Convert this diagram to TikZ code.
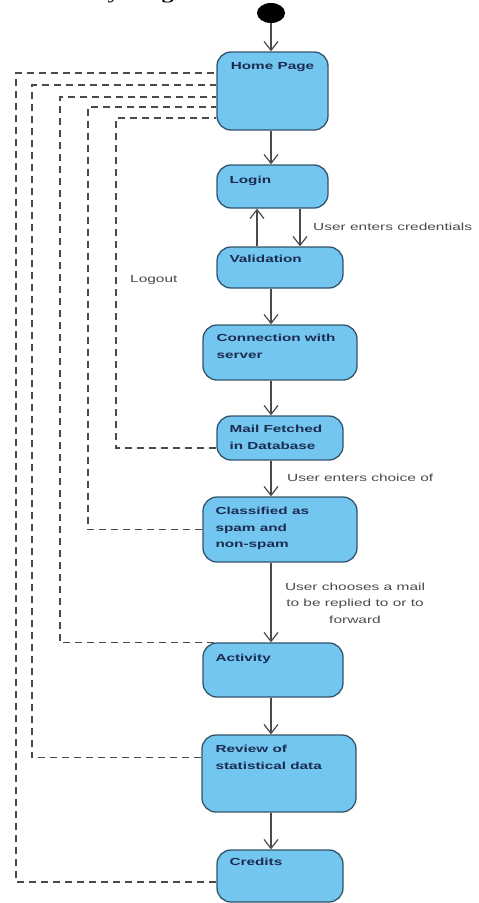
\documentclass[tikz,border=0pt]{standalone}
\usepackage{fontspec}
\setmainfont{Liberation Sans}
\newfontfamily\boxfont{Liberation Sans}[FakeStretch=1.5]
\newfontfamily\titlefont{Liberation Serif}[FakeStretch=1.5]
\usetikzlibrary{arrows.meta, shapes.geometric}

\definecolor{actfill}{HTML}{72C6F0}
\definecolor{actline}{HTML}{34546B}
\definecolor{acttext}{HTML}{1C2B4F}
\definecolor{flowgray}{HTML}{4A4A4A}

\tikzset{
  act/.style={draw=actline, fill=actfill, line width=1.3pt, rounded corners=14pt, inner sep=0pt},
  txt/.style={anchor=north west, inner sep=0pt, align=left, text=acttext,
    font=\boxfont\bfseries\fontsize{10.2}{16.5}\selectfont},
  flow/.style={draw=flowgray, line width=1.2pt, -{Straight Barb[length=9pt,width=14pt,line width=1.2pt]}},
  back/.style={draw=flowgray, line width=1.2pt, dash pattern=on 7pt off 5pt},
  note/.style={inner sep=0pt, text=flowgray, font=\boxfont\fontsize{10.3}{16.5}\selectfont}
}

\begin{document}
\begin{tikzpicture}[x=1pt, y=-1pt]
  \useasboundingbox (0,0) rectangle (479,903);

  % titre coupé en haut
  \node[anchor=base west, inner sep=0pt, font=\titlefont\bfseries\fontsize{16}{18}\selectfont] (titre) at (38,-0.5) {Activity Diagram};

  % noeud initial
  \node[ellipse, fill=black, minimum width=28pt, minimum height=20pt, inner sep=0pt] (start) at (271,13) {};

  % activités
  \node[act, minimum width=111pt, minimum height=78pt] (home) at (272.5,91) {};
  \node[act, minimum width=111pt, minimum height=43pt] (login) at (272.5,186.5) {};
  \node[act, minimum width=126pt, minimum height=41pt] (valid) at (280,267.5) {};
  \node[act, minimum width=154pt, minimum height=55pt] (conn) at (280,352.5) {};
  \node[act, minimum width=126pt, minimum height=44pt] (mail) at (280,438) {};
  \node[act, minimum width=154pt, minimum height=65pt] (class) at (280,529.5) {};
  \node[act, minimum width=140pt, minimum height=54pt] (activ) at (273,670) {};
  \node[act, minimum width=154pt, minimum height=77pt] (review) at (279,773.5) {};
  \node[act, minimum width=126pt, minimum height=52pt] (credits) at (280,876) {};

  % textes des activités
  \node[txt, anchor=north] (home-t) at ([yshift=-11pt]home.north) {Home Page};
  \node[txt] (login-t) at ([shift={(13,12)}]login.north west) {Login};
  \node[txt] (valid-t) at ([shift={(13,9)}]valid.north west) {Validation};
  \node[txt] (conn-t) at ([shift={(14,10)}]conn.north west) {Connection with\\server};
  \node[txt] (mail-t) at ([shift={(13,10)}]mail.north west) {Mail Fetched\\in Database};
  \node[txt] (class-t) at ([shift={(13,11)}]class.north west) {Classified as\\spam and\\non-spam};
  \node[txt] (activ-t) at ([shift={(13,12)}]activ.north west) {Activity};
  \node[txt] (review-t) at ([shift={(14,11)}]review.north west) {Review of\\statistical data};
  \node[txt] (credits-t) at ([shift={(13,9)}]credits.north west) {Credits};

  % flot principal
  \coordinate (up) at (257,0);
  \coordinate (dn) at (300,0);
  \draw[flow] (start.south) -- (start.south |- home.north);
  \draw[flow] (home.south -| start) -- (login.north -| start);
  \draw[flow] (valid.north -| up) -- (login.south -| up);
  \draw[flow] (login.south -| dn) -- (valid.north -| dn);
  \draw[flow] (valid.south -| start) -- (conn.north -| start);
  \draw[flow] (conn.south -| start) -- (mail.north -| start);
  \draw[flow] (mail.south -| start) -- (class.north -| start);
  \draw[flow] (class.south -| start) -- (activ.north -| start);
  \draw[flow] (activ.south -| start) -- (review.north -| start);
  \draw[flow] (review.south -| start) -- (credits.north -| start);

  % retours vers Home Page
  \draw[back] ([yshift=-10pt]mail.west) -| (116,118) -- ([yshift=-27pt]home.west);
  \draw[back] (class.west) -| (88,107) -- ([yshift=-16pt]home.west);
  \draw[back] ([xshift=12pt]activ.north west) -| (60,97) -- ([yshift=-6pt]home.west);
  \draw[back] ([yshift=16pt]review.west) -| (32,85) -- ([yshift=6pt]home.west);
  \draw[back] ([yshift=-6pt]credits.west) -| (16,73) -- ([yshift=18pt]home.west);

  % étiquettes
  \node[note, anchor=west] (cred) at (313,227) {User enters credentials};
  \node[note, anchor=west] (logout) at (130,280) {Logout};
  \node[note, anchor=west] (choix) at (287,478) {User enters choice of};
  \node[note, align=center] (choisit) at (355,603) {User chooses a mail\\to be replied to or to\\forward};
\end{tikzpicture}
\end{document}
